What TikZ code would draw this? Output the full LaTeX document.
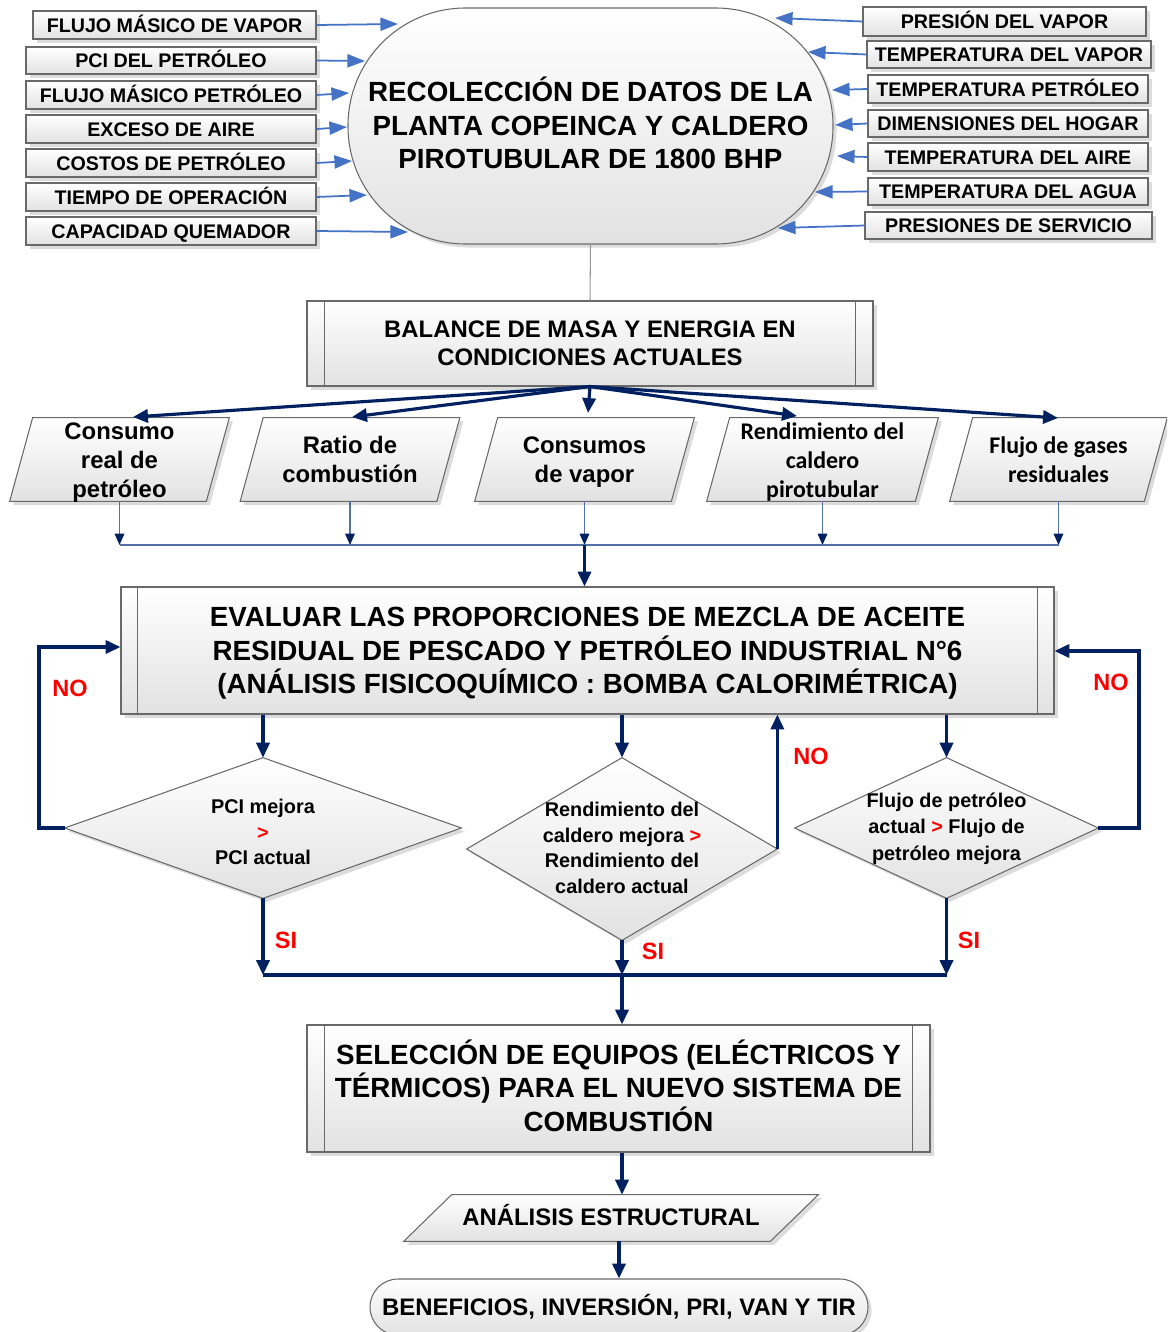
\documentclass[tikz,border=0pt]{standalone}
\usepackage{fontspec}
\setmainfont{Liberation Sans}
\newfontfamily\calib{Carlito}
\usetikzlibrary{shapes.geometric,shapes.misc,arrows.meta,shadows,calc}
\definecolor{navy}{RGB}{0,32,96}
\definecolor{inblue}{RGB}{68,114,196}
\definecolor{thinblue}{RGB}{84,112,166}
\definecolor{bordergray}{RGB}{105,105,105}
\definecolor{fillbot}{RGB}{226,226,226}
\definecolor{nored}{RGB}{255,0,0}
\def\pxu{0.02cm}
\begin{document}
\begin{tikzpicture}[x=0.02cm,y=-0.02cm,
  shadowed/.style={drop shadow={opacity=0.28,shadow xshift=2pt,shadow yshift=-2pt}},
  box/.style={draw=bordergray,line width=0.6pt,top color=white,bottom color=fillbot,shadowed,inner sep=0pt,align=center},
  frame/.style={rectangle,inner sep=0pt},
  inbox/.style={box,rectangle,text height=8pt,text depth=0pt,font=\bfseries\fontsize{11.2}{13}\selectfont},
  bigtext/.style={inner sep=0pt,align=center,font=\bfseries\fontsize{15.8}{19}\selectfont},
  ptext/.style={inner sep=0pt,align=center,font=\bfseries\fontsize{13.6}{16.5}\selectfont},
  ctext/.style={inner sep=0pt,align=center,font=\calib\bfseries\fontsize{13.6}{16.5}\selectfont},
  dtext/.style={inner sep=0pt,align=center,font=\bfseries\fontsize{11.3}{14.6}\selectfont},
  yn/.style={text=nored,inner sep=0pt,font=\bfseries\fontsize{13.4}{16}\selectfont},
  inarrow/.style={draw=inblue,line width=1pt,-{Triangle[length=10pt,width=7.5pt]}},
  navyarrow/.style={draw=navy,line width=1.8pt,-{Triangle[length=8.5pt,width=7.5pt]}},
  navyline/.style={draw=navy,line width=1.8pt},
  thinarrow/.style={draw=thinblue,line width=0.7pt,-{Triangle[length=6.5pt,width=5.5pt,color=navy]}},
  thinline/.style={draw=thinblue,line width=0.7pt},
  grayline/.style={draw=bordergray!70,line width=0.6pt},
  innerline/.style={draw=bordergray,line width=0.6pt}
]
\useasboundingbox (0,0) rectangle (1167,1332);
\clip (0,0) rectangle (1167,1332);

% central terminator
\node[box,rectangle,rounded corners=2.35cm,minimum width=485*\pxu,minimum height=236*\pxu] (rec) at (590.5,126) {};
\node[bigtext] (rect) at (590.5,123) {RECOLECCIÓN DE DATOS DE LA\\PLANTA COPEINCA Y CALDERO\\PIROTUBULAR DE 1800 BHP};

% left inputs
\node[inbox,minimum width=283*\pxu,minimum height=28*\pxu] (l1) at (174.5,25) {FLUJO MÁSICO DE VAPOR};
\node[inbox,minimum width=290*\pxu,minimum height=27*\pxu] (l2) at (171,60.5) {PCI DEL PETRÓLEO};
\node[inbox,minimum width=290*\pxu,minimum height=28*\pxu] (l3) at (171,95) {FLUJO MÁSICO PETRÓLEO};
\node[inbox,minimum width=290*\pxu,minimum height=28*\pxu] (l4) at (171,129) {EXCESO DE AIRE};
\node[inbox,minimum width=290*\pxu,minimum height=28*\pxu] (l5) at (171,163) {COSTOS DE PETRÓLEO};
\node[inbox,minimum width=290*\pxu,minimum height=28*\pxu] (l6) at (171,197) {TIEMPO DE OPERACIÓN};
\node[inbox,minimum width=290*\pxu,minimum height=28*\pxu] (l7) at (171,231) {CAPACIDAD QUEMADOR};

% right inputs
\node[inbox,minimum width=283*\pxu,minimum height=29*\pxu] (r1) at (1004.5,21.5) {PRESIÓN DEL VAPOR};
\node[inbox,minimum width=284*\pxu,minimum height=27*\pxu] (r2) at (1009,54.5) {TEMPERATURA DEL VAPOR};
\node[inbox,minimum width=280*\pxu,minimum height=28*\pxu] (r3) at (1008,89) {TEMPERATURA PETRÓLEO};
\node[inbox,minimum width=280*\pxu,minimum height=27*\pxu] (r4) at (1008,123.5) {DIMENSIONES DEL HOGAR};
\node[inbox,minimum width=280*\pxu,minimum height=28*\pxu] (r5) at (1008,157) {TEMPERATURA DEL AIRE};
\node[inbox,minimum width=280*\pxu,minimum height=27*\pxu] (r6) at (1008,191.5) {TEMPERATURA DEL AGUA};
\node[inbox,minimum width=287*\pxu,minimum height=27*\pxu] (r7) at (1008.5,225.5) {PRESIONES DE SERVICIO};

% arrow targets on the terminator
\coordinate (s1) at (398,24);
\coordinate (s2) at (365,61);
\coordinate (s3) at (349,93);
\coordinate (s4) at (347,127);
\coordinate (s5) at (352,161);
\coordinate (s6) at (367,195);
\coordinate (s7) at (408,232);
\coordinate (t1) at (775,18);
\coordinate (t2) at (808,52);
\coordinate (t3) at (832,90);
\coordinate (t4) at (835,125);
\coordinate (t5) at (837,156);
\coordinate (t6) at (815,192);
\coordinate (t7) at (778,228);
\foreach \i in {1,...,7}{
  \draw[inarrow] (l\i.east) -- (s\i);
  \draw[inarrow] (r\i.west) -- (t\i);
}

% balance
\node[box,rectangle,minimum width=566*\pxu,minimum height=85*\pxu,font=\bfseries\fontsize{13.6}{15.9}\selectfont] (bal) at (590,343.5) {BALANCE DE MASA Y ENERGIA EN\\CONDICIONES ACTUALES};
\draw[innerline] ([xshift=0.36cm]bal.north west) -- ([xshift=0.36cm]bal.south west);
\draw[innerline] ([xshift=-0.36cm]bal.north east) -- ([xshift=-0.36cm]bal.south east);
\draw[grayline] (rec.south) -- (bal.north);

% parallelograms (frames + outlines + text)
\node[frame,minimum width=219*\pxu,minimum height=83*\pxu] (p1) at (119.5,459.5) {};
\node[frame,minimum width=219*\pxu,minimum height=83*\pxu] (p2) at (350,459.5) {};
\node[frame,minimum width=219*\pxu,minimum height=83*\pxu] (p3) at (584.5,459.5) {};
\node[frame,minimum width=231*\pxu,minimum height=83*\pxu] (p4) at (822.5,459.5) {};
\node[frame,minimum width=217*\pxu,minimum height=83*\pxu] (p5) at (1058.5,459.5) {};
\foreach \i in {1,...,5}{
  \path[box] ([xshift=0.46cm]p\i.north west) -- (p\i.north east) -- ([xshift=-0.46cm]p\i.south east) -- (p\i.south west) -- cycle;
}
\node[ptext] (p1t) at (119.5,462.5) {Consumo\\real de\\petróleo};
\node[ptext] (p2t) at (350,459) {Ratio de\\combustión};
\node[ptext] (p3t) at (584.5,462) {Consumos\\de vapor};
\node[ctext] (p4t) at (822.5,461.5) {Rendimiento del\\caldero\\pirotubular};
\node[ctext] (p5t) at (1058.5,459.5) {Flujo de gases\\residuales};

\coordinate (a1) at (133,417);
\coordinate (a2) at (352,417);
\coordinate (a3) at (588,413);
\coordinate (a4) at (797,416);
\coordinate (a5) at (1058,418);
\foreach \i in {1,...,5}{
  \draw[navyarrow] (bal.south) -- (a\i);
}

% evaluation box
\node[box,rectangle,minimum width=933*\pxu,minimum height=127*\pxu] (eval) at (587.5,650.5) {};
\node[bigtext] (evalt) at (587.5,653.5) {EVALUAR LAS PROPORCIONES DE MEZCLA DE ACEITE\\RESIDUAL DE PESCADO Y PETRÓLEO INDUSTRIAL N°6\\(ANÁLISIS FISICOQUÍMICO : BOMBA CALORIMÉTRICA)};
\draw[innerline] ([xshift=0.34cm]eval.north west) -- ([xshift=0.34cm]eval.south west);
\draw[innerline] ([xshift=-0.34cm]eval.north east) -- ([xshift=-0.34cm]eval.south east);

\coordinate (busL) at (119,545);
\foreach \i in {1,...,5}{
  \draw[thinarrow] (p\i.south) -- (p\i.south |- busL);
}
\draw[thinline] (p1.south |- busL) -- (p5.south |- busL);
\draw[navyarrow] (p3.south |- busL) -- (p3.south |- eval.north);

% decisions
\node[frame,minimum width=396*\pxu,minimum height=140*\pxu] (d1) at (263,828) {};
\node[frame,minimum width=310*\pxu,minimum height=182*\pxu] (d2) at (622,849) {};
\node[frame,minimum width=303*\pxu,minimum height=140*\pxu] (d3) at (946.5,828) {};
\foreach \i in {1,2,3}{
  \path[box] (d\i.north) -- (d\i.east) -- (d\i.south) -- (d\i.west) -- cycle;
}
\node[dtext] (d1t) at (263,832) {PCI mejora\\\textcolor{nored}{>}\\PCI actual};
\node[dtext] (d2t) at (622,848) {Rendimiento del\\caldero mejora \textcolor{nored}{>}\\Rendimiento del\\caldero actual};
\node[dtext,font=\bfseries\fontsize{11.3}{15.2}\selectfont] (d3t) at (946.5,828.5) {Flujo de petróleo\\actual \textcolor{nored}{>} Flujo de\\petróleo mejora};

\draw[navyarrow] (eval.south -| d1.north) -- (d1.north);
\draw[navyarrow] (eval.south -| d2.north) -- (d2.north);
\draw[navyarrow] (eval.south -| d3.north) -- (d3.north);

\coordinate (noL) at (39,647);
\coordinate (noR) at (1139,651);
\draw[navyarrow] (d1.west) -| (noL) -- (noL -| eval.west);
\draw[navyarrow] (d3.east) -| (noR) -- (noR -| eval.east);
\draw[navyarrow] (d2.east) -- (d2.east |- eval.south);

% selection
\node[box,rectangle,minimum width=623*\pxu,minimum height=127*\pxu] (sel) at (618.5,1088.5) {};
\node[bigtext] (selt) at (618.5,1085.5) {SELECCIÓN DE EQUIPOS (ELÉCTRICOS Y\\TÉRMICOS) PARA EL NUEVO SISTEMA DE\\COMBUSTIÓN};
\draw[innerline] ([xshift=0.36cm]sel.north west) -- ([xshift=0.36cm]sel.south west);
\draw[innerline] ([xshift=-0.36cm]sel.north east) -- ([xshift=-0.36cm]sel.south east);

\coordinate (jn) at (622,975);
\draw[navyarrow] (d1.south) -- (d1.south |- jn);
\draw[navyarrow] (d2.south) -- (d2.south |- jn);
\draw[navyarrow] (d3.south) -- (d3.south |- jn);
\draw[navyline] (d1.south |- jn) -- (d3.south |- jn);
\draw[navyarrow] (jn) -- (jn |- sel.north);

% structural analysis
\node[frame,minimum width=414*\pxu,minimum height=46*\pxu] (ana) at (611,1218) {};
\path[box] ([xshift=0.96cm]ana.north west) -- (ana.north east) -- ([xshift=-0.96cm]ana.south east) -- (ana.south west) -- cycle;
\node[ptext] (anat) at (611,1215) {ANÁLISIS ESTRUCTURAL};
\draw[navyarrow] (sel.south -| jn) -- (jn |- ana.north);

% final terminator
\node[box,rectangle,rounded corners=0.56cm,minimum width=498*\pxu,minimum height=56*\pxu,font=\bfseries\fontsize{13.6}{16}\selectfont] (ben) at (619,1307) {BENEFICIOS, INVERSIÓN, PRI, VAN Y TIR};
\draw[navyarrow] (ben.north |- ana.south) -- (ben.north);

% yes / no labels
\node[yn] (no1) at (70,688) {NO};
\node[yn] (no2) at (811,756) {NO};
\node[yn] (no3) at (1111,682) {NO};
\node[yn] (si1) at (286,940) {SI};
\node[yn] (si2) at (653,951) {SI};
\node[yn] (si3) at (969,940) {SI};
\end{tikzpicture}
\end{document}
